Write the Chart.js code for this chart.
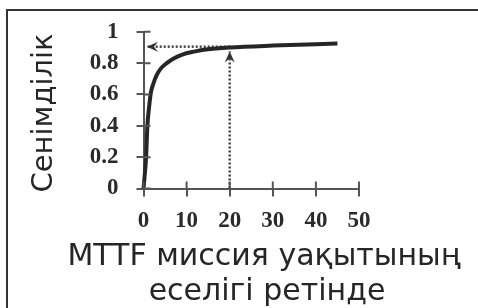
<!DOCTYPE html>
<html>
<head>
<meta charset="utf-8">
<script src="https://cdn.jsdelivr.net/npm/chart.js@4.4.1/dist/chart.umd.min.js"></script>
<style>
  html, body { margin:0; padding:0; background:#fff; }
  #wrap { position:relative; width:478px; height:308px; overflow:hidden; }
  #frame { position:absolute; left:6px; top:9px; width:520px; height:400px; border:2px solid #333; }
  canvas { position:absolute; left:0; top:0; }
</style>
</head>
<body>
<div id="wrap">
  <div id="frame"></div>
  <canvas id="c" width="478" height="308"></canvas>
</div>
<script>
// reliability vs mission time multiple
const curveX = [0, 0.3, 0.6, 0.9, 1.3, 1.7, 2.3, 3, 4, 5.4, 7, 9, 12, 14, 20, 30, 45];
const curveY = [0, 0.09, 0.2, 0.4, 0.52, 0.61, 0.67, 0.72, 0.765, 0.8, 0.83, 0.855, 0.875, 0.886, 0.9, 0.912, 0.925];

// dotted arrows: from (20,0) up to the curve, then left to the axis
const upArrowX = [20, 20];
const upArrowY = [0, 0.875];
const leftArrowX = [20, 0.8];
const leftArrowY = [0.905, 0.905];

const xTicks = [0, 10, 20, 30, 40, 50];
const yTicks = [0, 0.2, 0.4, 0.6, 0.8, 1];
const yTickLabels = ['0', '0.2', '0.4', '0.6', '0.8', '1'];

const yTitle = 'Сенімділік';
const xTitle = ['MTTF миссия уақытының', 'еселігі ретінде'];

const pts = (xs, ys) => xs.map((x, i) => ({x: x, y: ys[i]}));

const ink = '#262626';
const axisInk = '#555';
const tickFont = { family: '"Liberation Serif", "Times New Roman", serif', weight: 'bold', size: 23 };

// inner half of the crossing ticks, arrowheads and axis titles
const extras = {
  id: 'extras',
  afterDraw(chart) {
    const ctx = chart.ctx;
    const xs = chart.scales.x, ys = chart.scales.y;
    const ax = xs.getPixelForValue(0), ay = ys.getPixelForValue(0);
    ctx.save();
    ctx.strokeStyle = axisInk;
    ctx.lineWidth = 2;
    ctx.beginPath();
    xTicks.forEach(v => { const p = xs.getPixelForValue(v); ctx.moveTo(p, ay); ctx.lineTo(p, ay - 7); });
    yTicks.forEach(v => { const p = ys.getPixelForValue(v); ctx.moveTo(ax, p); ctx.lineTo(ax + 7, p); });
    ctx.stroke();

    // arrowheads at the last point of each arrow dataset
    [1, 2].forEach(i => {
      const m = chart.getDatasetMeta(i).data;
      const a = m[m.length - 2], b = m[m.length - 1];
      const ang = Math.atan2(b.y - a.y, b.x - a.x);
      ctx.save();
      ctx.translate(b.x, b.y);
      ctx.rotate(ang);
      ctx.fillStyle = '#333';
      ctx.beginPath();
      ctx.moveTo(0, 0);
      ctx.lineTo(-11, -5);
      ctx.lineTo(-7, 0);
      ctx.lineTo(-11, 5);
      ctx.closePath();
      ctx.fill();
      ctx.restore();
    });

    ctx.fillStyle = ink;
    ctx.textAlign = 'center';
    ctx.textBaseline = 'middle';
    ctx.font = '29px "DejaVu Sans"';
    ctx.save();
    ctx.translate(44, 113);
    ctx.rotate(-Math.PI / 2);
    ctx.fillText(yTitle, 0, 0);
    ctx.restore();
    ctx.font = '30px "DejaVu Sans"';
    ctx.fillText(xTitle[0], 264, 257);
    ctx.fillText(xTitle[1], 267, 292);
    ctx.restore();
  }
};

new Chart(document.getElementById('c'), {
  type: 'line',
  data: {
    datasets: [{
      data: pts(curveX, curveY),
      borderColor: ink,
      borderWidth: 4,
      pointRadius: 0,
      cubicInterpolationMode: 'monotone',
      clip: false
    }, {
      data: pts(upArrowX, upArrowY),
      borderColor: '#444',
      borderWidth: 2.5,
      borderDash: [2, 2],
      pointRadius: 0,
      clip: false
    }, {
      data: pts(leftArrowX, leftArrowY),
      borderColor: '#444',
      borderWidth: 2.5,
      borderDash: [2, 2],
      pointRadius: 0,
      clip: false
    }]
  },
  options: {
    responsive: false,
    animation: false,
    events: [],
    layout: { padding: { left: 0, right: 119, top: 30, bottom: 0 } },
    plugins: { legend: { display: false }, tooltip: { enabled: false } },
    scales: {
      x: {
        type: 'linear',
        min: 0, max: 50,
        afterFit: s => { s.height = 119.5; },
        afterBuildTicks: s => { s.ticks = xTicks.map(v => ({value: v})); },
        border: { display: true, color: axisInk, width: 2 },
        grid: { drawOnChartArea: false, drawTicks: true, tickLength: 8, color: axisInk, lineWidth: 2 },
        ticks: { color: '#2a2a2a', padding: 11, maxRotation: 0, font: tickFont }
      },
      y: {
        type: 'linear',
        min: 0, max: 1,
        afterFit: s => { s.width = 143.5; },
        afterBuildTicks: s => { s.ticks = yTicks.map(v => ({value: v})); },
        border: { display: true, color: axisInk, width: 2 },
        grid: { drawOnChartArea: false, drawTicks: true, tickLength: 7, color: axisInk, lineWidth: 2 },
        ticks: {
          color: '#2a2a2a', padding: 18,
          font: tickFont,
          callback: (v, i) => yTickLabels[i]
        }
      }
    }
  },
  plugins: [extras]
});
</script>
</body>
</html>
